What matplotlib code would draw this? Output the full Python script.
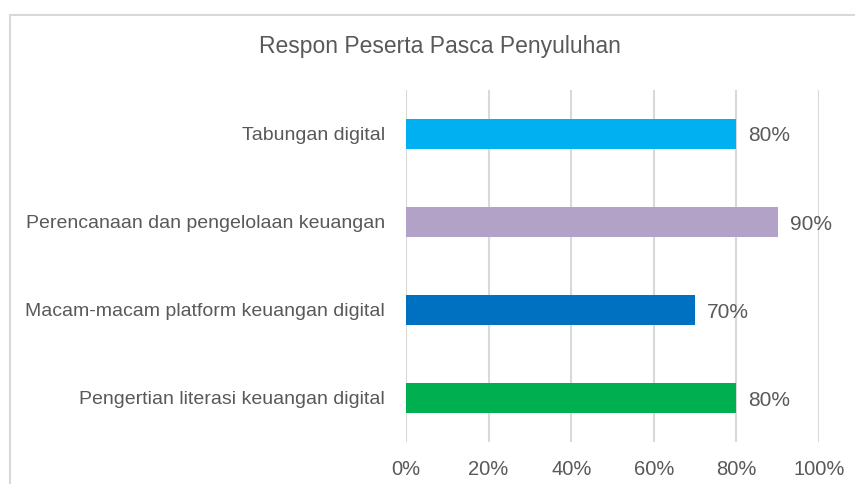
import matplotlib.pyplot as plt
from matplotlib.patches import Rectangle

categories = ['Pengertian literasi keuangan digital',
              'Macam-macam platform keuangan digital',
              'Perencanaan dan pengelolaan keuangan',
              'Tabungan digital']
values = [80, 70, 90, 80]
colors = ['#00B050', '#0070C0', '#B3A2C7', '#00B0F0']
xticks = [0, 20, 40, 60, 80, 100]
title = 'Respon Peserta Pasca Penyuluhan'

plt.rcParams['font.family'] = ['Liberation Sans', 'DejaVu Sans']
txt = '#595959'

fig = plt.figure(figsize=(8.55, 4.84), dpi=100)
fig.patch.set_facecolor('white')
# chart area border (cropped at right and bottom)
fig.patches.append(Rectangle((10 / 855, -0.1), 1.0, 1 - 15 / 484 + 0.1,
                             transform=fig.transFigure, fill=False,
                             edgecolor='#D9D9D9', linewidth=1.5))

ax = fig.add_axes([406 / 855, 42 / 484, 413 / 855, 352 / 484])
y = range(len(categories))
ax.barh(y, values, height=0.34, color=colors, zorder=3)
for i, v in enumerate(values):
    ax.text(v + 2.9, i, f'{v}%', va='center_baseline', ha='left',
            fontsize=15, color=txt)

ax.set_xlim(0, 100)
ax.set_ylim(-0.5, len(categories) - 0.5)
ax.set_xticks(xticks)
ax.set_xticklabels([f'{t}%' for t in xticks])
ax.set_yticks(list(y))
ax.set_yticklabels(categories)
ax.tick_params(axis='both', length=0, colors=txt)
ax.tick_params(axis='y', pad=15, labelsize=14)
ax.tick_params(axis='x', pad=13, labelsize=14.5)
ax.grid(axis='x', color='#D9D9D9', linewidth=1.5, zorder=0)
for s in ax.spines.values():
    s.set_visible(False)

fig.text(440 / 855, 1 - 47 / 484, title, ha='center', va='center',
         fontsize=16.5, color=txt)

fig.savefig('out.png', dpi=100)
